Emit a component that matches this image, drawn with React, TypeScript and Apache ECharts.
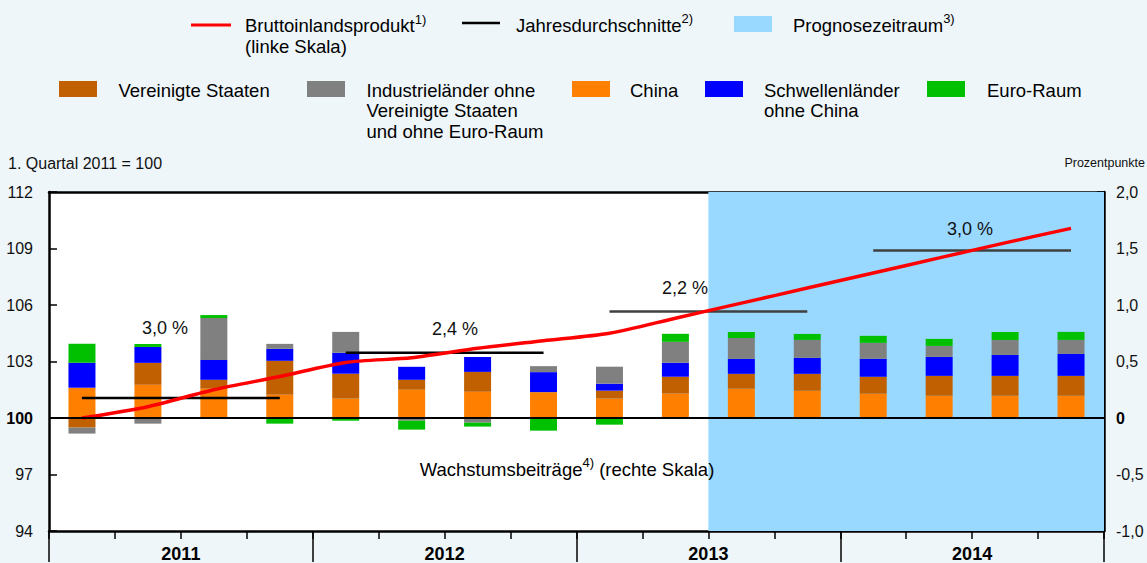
import React, { useEffect, useRef } from 'react';
import * as echarts from 'echarts';

const quarters = [
  '2011 Q1', '2011 Q2', '2011 Q3', '2011 Q4',
  '2012 Q1', '2012 Q2', '2012 Q3', '2012 Q4',
  '2013 Q1', '2013 Q2', '2013 Q3', '2013 Q4',
  '2014 Q1', '2014 Q2', '2014 Q3', '2014 Q4',
];
const years = ['2011', '2012', '2013', '2014'];
const forecastStartIndex = 10;

// Bruttoinlandsprodukt, 1. Quartal 2011 = 100 (linke Skala)
const gdp = [100.0, 100.6, 101.5, 102.2, 102.95, 103.2, 103.7, 104.1, 104.5, 105.3, 106.1, 106.9, 107.7, 108.5, 109.3, 110.07];
// Jahresdurchschnitte (linke Skala) and their labels
const yearAvg = [101.06, 103.46, 105.66, 108.89];
const yearAvgLabels = ['3,0 %', '2,4 %', '2,2 %', '3,0 %'];

// Wachstumsbeiträge, Prozentpunkte (rechte Skala)
const china = [0.268, 0.294, 0.259, 0.206, 0.171, 0.25, 0.232, 0.224, 0.171, 0.215, 0.259, 0.241, 0.215, 0.197, 0.197, 0.197];
const usa = [-0.085, 0.194, 0.079, 0.3, 0.221, 0.088, 0.176, 0.006, 0.071, 0.15, 0.132, 0.15, 0.15, 0.176, 0.176, 0.176];
const emerging = [0.221, 0.141, 0.176, 0.106, 0.185, 0.115, 0.132, 0.176, 0.062, 0.124, 0.132, 0.141, 0.159, 0.168, 0.185, 0.194];
const industrial = [-0.053, -0.05, 0.371, 0.044, 0.185, -0.024, -0.041, 0.053, 0.15, 0.185, 0.185, 0.159, 0.141, 0.097, 0.132, 0.124];
const euro = [0.168, 0.026, 0.026, -0.05, -0.024, -0.079, -0.035, -0.112, -0.059, 0.071, 0.053, 0.053, 0.062, 0.062, 0.071, 0.071];

const COLORS = {
  china: '#FF8000',
  usa: '#C06000',
  emerging: '#0000FF',
  industrial: '#808080',
  euro: '#00C000',
  gdp: '#FF0000',
  forecast: '#99D8FF',
  bg: '#EEF6F9',
};

const FONT = '"Liberation Sans", Arial, Helvetica, sans-serif';

const richBase = {
  n: { fontSize: 18.5, fontFamily: FONT, color: '#111', lineHeight: 26 },
  s: { fontSize: 13, fontFamily: FONT, color: '#111', verticalAlign: 'top', lineHeight: 15 },
};

function legendText(x: number, y: number, main: string, sup?: string) {
  return {
    type: 'text',
    x,
    y,
    z: 100,
    silent: true,
    style: {
      text: sup ? `{n|${main}}{s|${sup}}` : `{n|${main}}`,
      rich: richBase,
      verticalAlign: 'middle',
      align: 'left',
    },
  };
}

function plainText(x: number, y: number, text: string, size = 16, align = 'left') {
  return {
    type: 'text',
    x,
    y,
    z: 100,
    silent: true,
    style: {
      text,
      fontSize: size,
      fontFamily: FONT,
      fill: '#111',
      align,
      verticalAlign: 'middle',
    },
  };
}

export default function App() {
  const ref = useRef<HTMLDivElement>(null);

  useEffect(() => {
    if (!ref.current) return;
    const chart = echarts.init(ref.current, undefined, { renderer: 'svg' });

    const barSeries = [
      { name: 'China', data: china, color: COLORS.china },
      { name: 'Vereinigte Staaten', data: usa, color: COLORS.usa },
      { name: 'Schwellenländer ohne China', data: emerging, color: COLORS.emerging },
      { name: 'Industrieländer ohne Vereinigte Staaten und ohne Euro-Raum', data: industrial, color: COLORS.industrial },
      { name: 'Euro-Raum', data: euro, color: COLORS.euro },
    ].map((s, i) => ({
      name: s.name,
      type: 'bar',
      stack: 'beitraege',
      xAxisIndex: 0,
      yAxisIndex: 1,
      barWidth: 27,
      data: s.data,
      itemStyle: { color: s.color },
      z: 2,
      ...(i === 4
        ? {
            markLine: {
              silent: true,
              symbol: 'none',
              z: 5,
              label: { show: false },
              lineStyle: { color: '#000', width: 2, type: 'solid' },
              data: [{ yAxis: 0 }],
            },
          }
        : {}),
    }));

    const avgSeries = years.map((_, i) => ({
      name: 'Jahresdurchschnitte',
      type: 'line',
      xAxisIndex: 0,
      yAxisIndex: 0,
      symbol: 'none',
      z: 3,
      lineStyle: { color: i < 2 ? '#000' : '#404040', width: 2.5 },
      data: quarters.map((_, j) => (Math.floor(j / 4) === i ? yearAvg[i] : null)),
    }));

    const option = {
      animation: false,
      backgroundColor: COLORS.bg,
      textStyle: { fontFamily: FONT },
      grid: {
        left: 49,
        right: 43,
        top: 192,
        bottom: 31,
        show: true,
        backgroundColor: '#FFFFFF',
        borderWidth: 0,
      },
      xAxis: [
        {
          type: 'category',
          data: quarters,
          position: 'bottom',
          boundaryGap: true,
          axisLine: { show: true, onZero: false, lineStyle: { color: '#000', width: 2.5 } },
          axisTick: { show: true, interval: 0, length: 8, lineStyle: { color: '#000', width: 1.5 } },
          axisLabel: { show: false },
          splitLine: { show: false },
        },
        {
          type: 'category',
          data: years,
          position: 'bottom',
          boundaryGap: true,
          axisLine: { show: false, onZero: false },
          axisTick: { show: true, interval: 0, length: 31, lineStyle: { color: '#000', width: 1.5 } },
          axisLabel: { show: true, interval: 0, fontSize: 18, fontWeight: 'bold', color: '#000', margin: 14, fontFamily: FONT },
          splitLine: { show: false },
        },
        {
          type: 'category',
          data: quarters,
          position: 'top',
          axisLine: { show: true, onZero: false, lineStyle: { color: '#000', width: 2.5 } },
          axisTick: { show: false },
          axisLabel: { show: false },
          splitLine: { show: false },
        },
        { type: 'value', min: 0, max: quarters.length, show: false },
      ],
      yAxis: [
        {
          type: 'value',
          position: 'left',
          min: 94,
          max: 112,
          interval: 3,
          axisLine: { show: true, onZero: false, lineStyle: { color: '#000', width: 2.5 } },
          axisTick: { show: true, inside: true, length: 8, lineStyle: { color: '#000', width: 1.5 } },
          axisLabel: {
            margin: 16,
            fontSize: 16,
            color: '#111',
            fontFamily: FONT,
            formatter: (v: number) => (v === 100 ? '{b|100}' : String(v)),
            rich: { b: { fontWeight: 'bold', fontSize: 16, color: '#000', fontFamily: FONT } },
          },
          splitLine: { show: false },
        },
        {
          type: 'value',
          position: 'right',
          min: -1,
          max: 2,
          interval: 0.5,
          axisLine: { show: true, onZero: false, lineStyle: { color: '#000', width: 2.5 } },
          axisTick: { show: true, inside: true, length: 7, lineStyle: { color: '#000', width: 1.5 } },
          axisLabel: {
            margin: 12,
            fontSize: 16,
            color: '#111',
            fontFamily: FONT,
            formatter: (v: number) => (v === 0 ? '{b|0}' : v.toFixed(1).replace('.', ',')),
            rich: { b: { fontWeight: 'bold', fontSize: 16, color: '#000', fontFamily: FONT } },
          },
          splitLine: { show: false },
        },
      ],
      series: [
        {
          name: 'Prognosezeitraum',
          type: 'line',
          xAxisIndex: 3,
          yAxisIndex: 0,
          data: [],
          z: 1,
          markArea: {
            silent: true,
            itemStyle: { color: COLORS.forecast },
            data: [[{ xAxis: forecastStartIndex }, { xAxis: quarters.length }]],
          },
        },
        ...barSeries,
        ...avgSeries,
        {
          name: 'Bruttoinlandsprodukt',
          type: 'line',
          xAxisIndex: 0,
          yAxisIndex: 0,
          data: gdp,
          smooth: 0.25,
          symbol: 'none',
          z: 4,
          lineStyle: { color: COLORS.gdp, width: 3.5 },
        },
      ],
      graphic: [
        // Legend, row 1
        { type: 'line', silent: true, shape: { x1: 191, y1: 25, x2: 231, y2: 25 }, style: { stroke: COLORS.gdp, lineWidth: 3 } },
        legendText(245, 25.5, 'Bruttoinlandsprodukt', '1)'),
        legendText(245, 46, '(linke Skala)'),
        { type: 'line', silent: true, shape: { x1: 462, y1: 23, x2: 500, y2: 23 }, style: { stroke: '#000', lineWidth: 2.5 } },
        legendText(516, 25, 'Jahresdurchschnitte', '2)'),
        { type: 'rect', silent: true, shape: { x: 734, y: 16, width: 38, height: 16 }, style: { fill: COLORS.forecast } },
        legendText(793, 25, 'Prognosezeitraum', '3)'),
        // Legend, row 2
        { type: 'rect', silent: true, shape: { x: 59, y: 81, width: 38, height: 16 }, style: { fill: COLORS.usa } },
        legendText(118.5, 90.5, 'Vereinigte Staaten'),
        { type: 'rect', silent: true, shape: { x: 307, y: 81, width: 38, height: 16 }, style: { fill: COLORS.industrial } },
        legendText(366.5, 90.5, 'Industrieländer ohne'),
        legendText(366.5, 110.8, 'Vereinigte Staaten'),
        legendText(366.5, 131.1, 'und ohne Euro-Raum'),
        { type: 'rect', silent: true, shape: { x: 572, y: 81, width: 38, height: 16 }, style: { fill: COLORS.china } },
        legendText(630, 90.5, 'China'),
        { type: 'rect', silent: true, shape: { x: 705, y: 81, width: 38, height: 16 }, style: { fill: COLORS.emerging } },
        legendText(764, 90.5, 'Schwellenländer'),
        legendText(764, 110.8, 'ohne China'),
        { type: 'rect', silent: true, shape: { x: 927, y: 81, width: 38, height: 16 }, style: { fill: COLORS.euro } },
        legendText(987, 90.5, 'Euro-Raum'),
        // Axis titles
        plainText(8, 163, '1. Quartal 2011 = 100', 16, 'left'),
        plainText(1145, 163, 'Prozentpunkte', 12.5, 'right'),
        // Annual growth labels
        plainText(165, 328, yearAvgLabels[0], 18, 'center'),
        plainText(455, 329, yearAvgLabels[1], 18, 'center'),
        plainText(685, 288, yearAvgLabels[2], 18, 'center'),
        plainText(970, 229, yearAvgLabels[3], 18, 'center'),
        // Note inside plot
        {
          type: 'text',
          x: 567,
          y: 469,
          z: 100,
          silent: true,
          style: {
            text: '{n|Wachstumsbeiträge}{s|4)}{n| (rechte Skala)}',
            rich: richBase,
            align: 'center',
            verticalAlign: 'middle',
          },
        },
      ],
    };

    chart.setOption(option as any);
    return () => chart.dispose();
  }, []);

  return (
    <div
      ref={ref}
      style={{ position: 'absolute', left: 0, top: 0, width: 1147, height: 563, background: COLORS.bg }}
    />
  );
}
